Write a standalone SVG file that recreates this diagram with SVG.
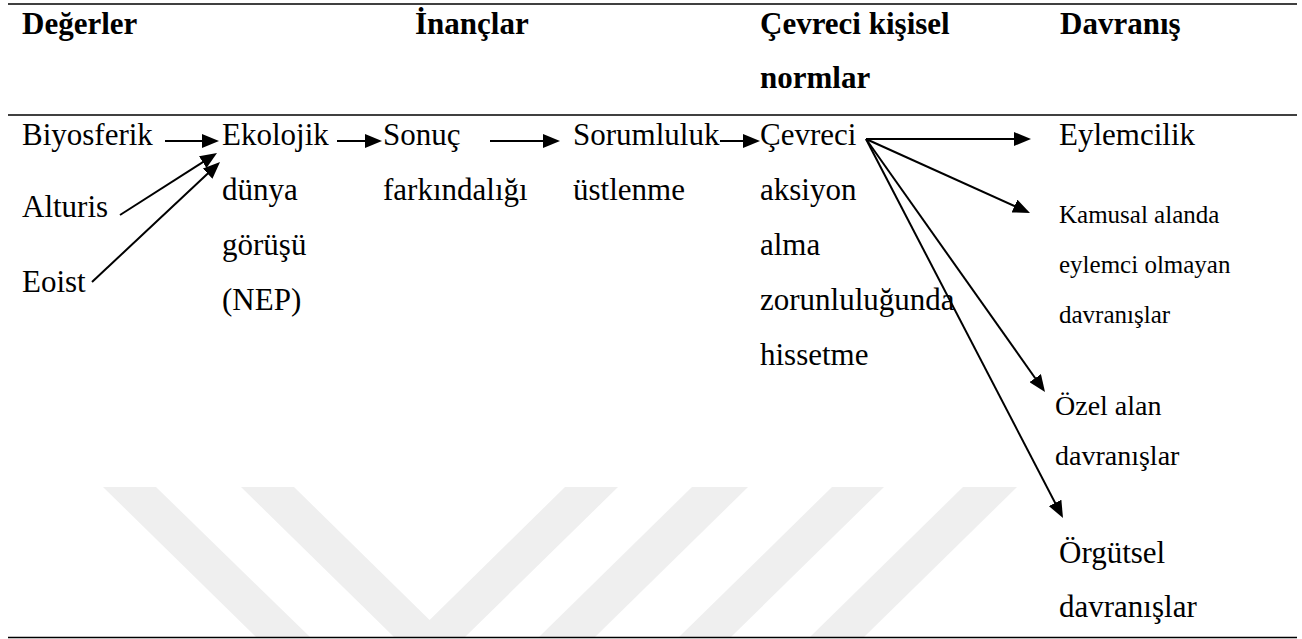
<svg xmlns="http://www.w3.org/2000/svg" width="1302" height="639" viewBox="0 0 1302 639">
<style>
text{font-family:'Liberation Serif','Times New Roman',serif;font-size:31px;fill:#000}
.h{font-weight:bold}
.s{font-size:25px}
.m{font-size:28px}
.rule{stroke:#000;stroke-width:1.6}
.c{stroke:#000;stroke-width:2;fill:none;marker-end:url(#ah)}
.wm{fill:#efefef}
</style>
<defs>
<marker id="ah" markerUnits="userSpaceOnUse" markerWidth="17" markerHeight="14" refX="9" refY="7" orient="auto">
<path d="M0,0 L17,7 L0,14 z" fill="#000"/>
</marker>
</defs>
<rect width="1302" height="639" fill="#fff"/>
<g id="watermark">
<polygon class="wm" points="103,487 156,487 310,637 256,637"/>
<polygon class="wm" points="241,487 294,487 429.6,620 565,487 618,487 465,637 394,637"/>
<polygon class="wm" points="692,487 748,487 595,637 539,637"/>
<polygon class="wm" points="832,487 884,487 731,637 679,637"/>
<polygon class="wm" points="963,487 1017,487 864,637 810,637"/>
</g>
<g id="rules">
<line class="rule" x1="8" y1="4" x2="1297" y2="4"/>
<line class="rule" x1="8" y1="115" x2="1297" y2="115"/>
<line class="rule" x1="8" y1="637.5" x2="1297" y2="637.5"/>
</g>
<g id="header">
<text class="h" x="22" y="34">Değerler</text>
<text class="h" x="415" y="34">İnançlar</text>
<text class="h" x="760" y="34">Çevreci kişisel</text>
<text class="h" x="760" y="88">normlar</text>
<text class="h" x="1060" y="34">Davranış</text>
</g>
<g id="biyosferik"><text x="22" y="145">Biyosferik</text></g>
<g id="alturis"><text x="22" y="217">Alturis</text></g>
<g id="eoist"><text x="22" y="292">Eoist</text></g>
<g id="nep">
<text x="222" y="145">Ekolojik</text>
<text x="222" y="200">dünya</text>
<text x="222" y="255">görüşü</text>
<text x="222" y="310">(NEP)</text>
</g>
<g id="sonuc">
<text x="383" y="145">Sonuç</text>
<text x="383" y="200">farkındalığı</text>
</g>
<g id="sorumluluk">
<text x="573" y="145">Sorumluluk</text>
<text x="573" y="200">üstlenme</text>
</g>
<g id="cevreci">
<text x="760" y="145">Çevreci</text>
<text x="760" y="200">aksiyon</text>
<text x="760" y="255">alma</text>
<text x="760" y="310">zorunluluğunda</text>
<text x="760" y="365">hissetme</text>
</g>
<g id="eylemcilik"><text x="1059" y="145">Eylemcilik</text></g>
<g id="kamusal">
<text class="s" x="1059" y="223">Kamusal alanda</text>
<text class="s" x="1059" y="273">eylemci olmayan</text>
<text class="s" x="1059" y="323">davranışlar</text>
</g>
<g id="ozel">
<text class="m" x="1055" y="415">Özel alan</text>
<text class="m" x="1055" y="465">davranışlar</text>
</g>
<g id="orgutsel">
<text x="1059" y="563">Örgütsel</text>
<text x="1059" y="617">davranışlar</text>
</g>
<g id="connectors">
<line class="c" x1="165" y1="141" x2="211" y2="141"/>
<line class="c" x1="337" y1="141" x2="374" y2="141"/>
<line class="c" x1="490" y1="141" x2="552" y2="141"/>
<line class="c" x1="720" y1="141" x2="752" y2="141"/>
<line class="c" x1="120" y1="215" x2="210.3" y2="157.3"/>
<line class="c" x1="92" y1="282" x2="214.2" y2="167.5"/>
<line class="c" x1="866" y1="139" x2="1023" y2="139"/>
<line class="c" x1="866" y1="139" x2="1022.7" y2="209.7"/>
<line class="c" x1="866" y1="139" x2="1040.4" y2="385.5"/>
<line class="c" x1="866" y1="139" x2="1059.3" y2="510.9"/>
</g>
</svg>
